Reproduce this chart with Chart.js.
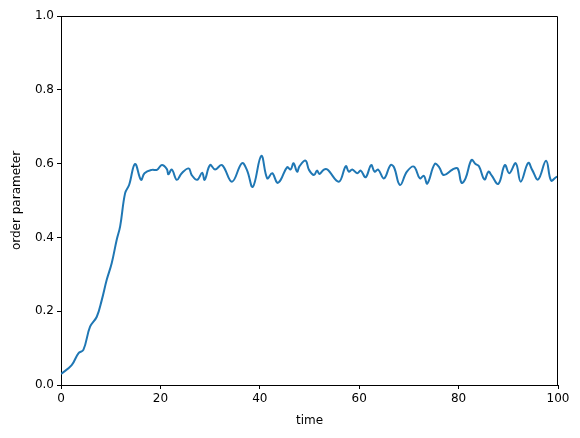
<!DOCTYPE html>
<html>
<head>
<meta charset="utf-8">
<script src="https://cdn.jsdelivr.net/npm/chart.js@4"></script>
<style>
  html, body { margin: 0; padding: 0; background: #fff; }
  #wrap { width: 580px; height: 438px; }
</style>
</head>
<body>
<div id="wrap"><canvas id="chart" width="580" height="438"></canvas></div>
<script>
// 시간 축
const times = [0, 2.15, 3.5, 4.5, 5.85, 7.2, 8.2, 9.2, 10.2, 11.2, 11.9, 12.9, 13.7, 14.9, 16.1, 16.8,
  18.3, 19.3, 20.3, 21.3, 21.6, 22.3, 23.3, 24.3, 25.7, 26.3, 27.4, 28.4, 28.9, 30.0, 31.0, 32.4,
  34.4, 36.4, 37.4, 38.6, 40.3, 41.5, 42.5, 43.5, 44.2, 45.5, 46.2, 46.8, 47.5, 48.0, 49.2, 49.9,
  50.9, 51.5, 52.0, 52.9, 53.6, 55.9, 57.3, 57.9, 58.6, 59.6, 60.3, 61.3, 62.4, 63.1, 63.8, 65.0,
  66.3, 67.0, 68.2, 69.6, 71.0, 72.2, 73.0, 73.7, 75.2, 76.1, 77.0, 78.8, 79.8, 80.6, 81.4, 82.6,
  83.4, 84.1, 85.2, 86.0, 86.6, 88.0, 89.3, 90.2, 91.5, 92.5, 94.0, 94.8, 96.0, 97.6, 98.6, 99.6, 100];

// order parameter 값
const orderParam = [0.030, 0.054, 0.086, 0.095, 0.158, 0.185, 0.230, 0.285, 0.330, 0.393, 0.430, 0.520, 0.542, 0.599, 0.556, 0.574,
  0.583, 0.583, 0.596, 0.585, 0.571, 0.584, 0.556, 0.574, 0.587, 0.569, 0.556, 0.575, 0.556, 0.596, 0.584, 0.596,
  0.551, 0.601, 0.583, 0.537, 0.621, 0.560, 0.574, 0.548, 0.556, 0.590, 0.584, 0.601, 0.578, 0.593, 0.608, 0.583,
  0.569, 0.581, 0.572, 0.584, 0.584, 0.551, 0.593, 0.578, 0.584, 0.574, 0.581, 0.563, 0.596, 0.578, 0.584, 0.560,
  0.596, 0.590, 0.542, 0.578, 0.592, 0.560, 0.567, 0.546, 0.599, 0.590, 0.569, 0.584, 0.587, 0.548, 0.560, 0.610,
  0.599, 0.593, 0.557, 0.578, 0.569, 0.545, 0.596, 0.574, 0.601, 0.551, 0.602, 0.583, 0.557, 0.608, 0.554, 0.563, 0.565];

// 눈금
const xTicks = [0, 20, 40, 60, 80, 100];
const yTicks = [0, 0.2, 0.4, 0.6, 0.8, 1.0];

const font = { family: 'DejaVu Sans', size: 12 };

// 위, 오른쪽 테두리
const boxPlugin = {
  id: 'box',
  afterDraw(chart) {
    const a = chart.chartArea, c = chart.ctx;
    c.save();
    c.strokeStyle = '#000';
    c.lineWidth = 1;
    c.beginPath();
    c.moveTo(a.left, a.top + 0.5);
    c.lineTo(a.right - 0.5, a.top + 0.5);
    c.lineTo(a.right - 0.5, a.bottom);
    c.stroke();
    c.restore();
  }
};

var ctx = document.getElementById('chart').getContext('2d');
var myChart = new Chart(ctx, {
  type: 'line',
  data: {
    datasets: [{
      data: times.map((t, i) => ({ x: t, y: orderParam[i] })),
      borderColor: '#1f77b4',
      borderWidth: 2,
      pointRadius: 0,
      tension: 0.4,
      fill: false
    }]
  },
  options: {
    responsive: false,
    animation: false,
    layout: { padding: { top: 16, right: 22, left: 0, bottom: 0 } },
    plugins: { legend: { display: false }, tooltip: { enabled: false } },
    scales: {
      x: {
        type: 'linear',
        min: 0, max: 100,
        afterBuildTicks: s => { s.ticks = xTicks.map(v => ({ value: v })); },
        afterFit: s => { s.height = 53; },
        ticks: { color: '#000', font: font, padding: 3, maxRotation: 0 },
        grid: { drawOnChartArea: false, tickLength: 4, tickColor: '#000' },
        border: { color: '#000' },
        title: { display: true, text: 'time', color: '#000', font: font, padding: { top: 0, bottom: 10 } }
      },
      y: {
        min: 0, max: 1,
        afterBuildTicks: s => { s.ticks = yTicks.map(v => ({ value: v })); },
        afterFit: s => { s.width = 61; },
        ticks: { color: '#000', font: font, padding: 3, callback: v => v.toFixed(1) },
        grid: { drawOnChartArea: false, tickLength: 4, tickColor: '#000' },
        border: { color: '#000' },
        title: { display: true, text: 'order parameter', color: '#000', font: font, padding: { top: 10, bottom: 0 } }
      }
    }
  },
  plugins: [boxPlugin]
});
</script>
</body>
</html>
